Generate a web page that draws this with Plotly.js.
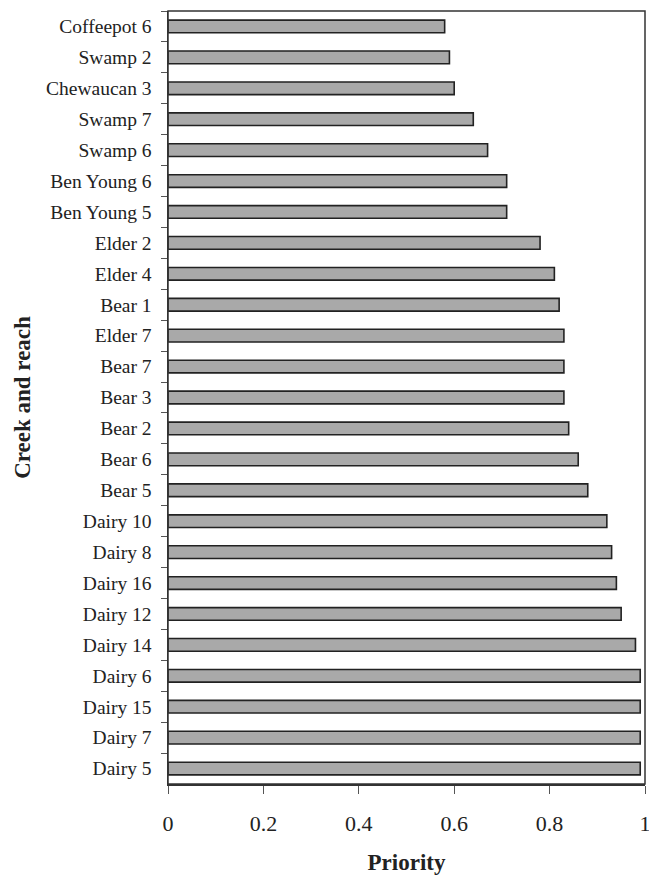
<!DOCTYPE html>
<html>
<head>
<meta charset="utf-8">
<script src="https://cdn.plot.ly/plotly-3.0.1.min.js"></script>
<style>html,body{margin:0;padding:0;background:#fff;overflow:hidden;}#chart{width:649px;height:878px;}</style>
</head>
<body>
<div id="chart"></div>
<script>
// Categories listed top-to-bottom as shown in the chart
const reaches = ["Coffeepot 6","Swamp 2","Chewaucan 3","Swamp 7","Swamp 6","Ben Young 6","Ben Young 5",
  "Elder 2","Elder 4","Bear 1","Elder 7","Bear 7","Bear 3","Bear 2","Bear 6","Bear 5",
  "Dairy 10","Dairy 8","Dairy 16","Dairy 12","Dairy 14","Dairy 6","Dairy 15","Dairy 7","Dairy 5"];
const priority = [0.58,0.59,0.60,0.64,0.67,0.71,0.71,
  0.78,0.81,0.82,0.83,0.83,0.83,0.84,0.86,0.88,
  0.92,0.93,0.94,0.95,0.98,0.99,0.99,0.99,0.99];
const xTickVals = [0,0.2,0.4,0.6,0.8,1];
const xTickText = ["0","0.2","0.4","0.6","0.8","1"];

const font = "'Liberation Serif','Times New Roman',serif";

Plotly.newPlot("chart", [{
  type: "bar",
  orientation: "h",
  y: reaches,
  x: priority,
  marker: {color: "#a9a9a9", line: {color: "#222", width: 1.6}},
  hoverinfo: "none"
}], {
  width: 649, height: 878,
  margin: {l: 168, r: 4, t: 11, b: 94},
  paper_bgcolor: "#fff",
  plot_bgcolor: "#fff",
  bargap: 0.59,
  showlegend: false,
  font: {family: font, color: "#222"},
  shapes: [{
    type: "rect", xref: "paper", yref: "paper", x0: 0, x1: 1, y0: 0, y1: 1,
    line: {color: "#333", width: 1.5}, fillcolor: "rgba(0,0,0,0)", layer: "above"
  }],
  xaxis: {
    range: [0, 1],
    tickvals: xTickVals, ticktext: xTickText,
    showgrid: false, zeroline: false,
    ticks: "outside", ticklen: 8, tickwidth: 1, tickcolor: "#555",
    ticklabelstandoff: 11,
    ticklabeloverflow: "allow",
    tickfont: {family: font, size: 22, color: "#222"},
    showline: true, linecolor: "#333", linewidth: 1.5,
    title: {text: "<b>Priority</b>", font: {family: font, size: 23, color: "#222"}, standoff: 19}
  },
  yaxis: {
    type: "category",
    categoryorder: "array", categoryarray: reaches,
    autorange: "reversed",
    showgrid: false, zeroline: false,
    ticks: "outside", ticklen: 6, tickwidth: 1, tickcolor: "#555",
    tickson: "boundaries",
    ticklabelstandoff: 11,
    tickfont: {family: font, size: 19.5, color: "#222"},
    showline: true, linecolor: "#333", linewidth: 1.5,
    title: {text: "<b>Creek and reach</b>", font: {family: font, size: 23, color: "#222"}, standoff: 9}
  }
}, {staticPlot: true});
</script>
</body>
</html>
